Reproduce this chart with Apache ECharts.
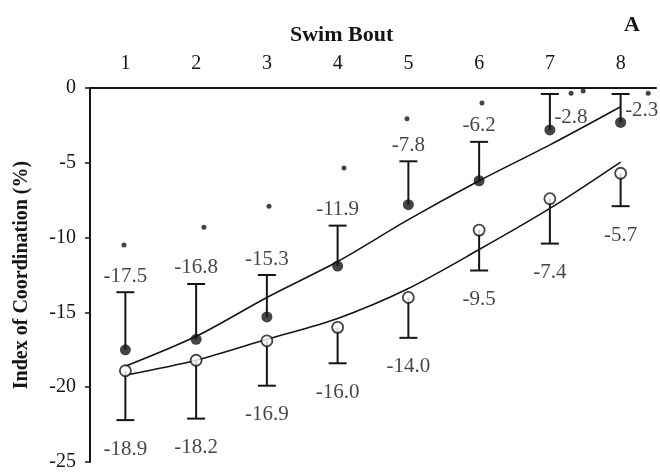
<!DOCTYPE html>
<html><head><meta charset="utf-8">
<script src="https://cdn.jsdelivr.net/npm/echarts@6/dist/echarts.min.js"></script>
<style>html,body{margin:0;padding:0;background:#fff}#c{width:660px;height:472px}</style>
</head><body><div id="c"></div>
<script>
// ---- data ----
const bouts = ['1', '2', '3', '4', '5', '6', '7', '8'];
const filledMean = [-17.5, -16.8, -15.3, -11.9, -7.8, -6.2, -2.8, -2.3];
const filledUpper = [-13.65, -13.1, -12.5, -9.2, -4.9, -3.6, -0.4, -0.4];
const openMean = [-18.9, -18.2, -16.9, -16.0, -14.0, -9.5, -7.4, -5.7];
const openLower = [-22.2, -22.1, -19.9, -18.4, -16.7, -12.2, -10.4, -7.9];
const filledFit = [-18.6, -16.6, -14.0, -11.6, -8.8, -6.2, -3.8, -1.25];
const openFit = [-19.2, -18.2, -16.8, -15.4, -13.4, -10.8, -8.05, -4.95];
const asteriskX = [0.98, 2.11, 3.03, 4.09, 4.98, 6.04, 7.30, 7.47, 8.39];
const asteriskY = [-10.5, -9.3, -7.9, -5.35, -2.05, -1.0, -0.35, -0.2, -0.35];
const yMin = -25, yMax = 0, yStep = 5;

const FONT = '"Liberation Serif", "Times New Roman", serif';
const INK = '#151515';

function errRender(params, api) {
  const x = api.value(0), a = api.value(1), b = api.value(2);
  const p1 = api.coord([x, a]), p2 = api.coord([x, b]);
  const hw = 9;
  return {
    type: 'group', children: [
      { type: 'line', shape: { x1: p1[0], y1: p1[1], x2: p2[0], y2: p2[1] }, style: { stroke: INK, lineWidth: 2 } },
      { type: 'line', shape: { x1: p2[0] - hw, y1: p2[1], x2: p2[0] + hw, y2: p2[1] }, style: { stroke: INK, lineWidth: 2 } }
    ]
  };
}

const fmt = v => v.toFixed(1);

// label items for filled group: above the upper cap, or to the right of the point when the cap is near 0
const filledLabelData = filledMean.map((m, i) => {
  const up = filledUpper[i];
  if (up > -1) {
    return { value: [i, m], label: { position: 'right', distance: 4, offset: [0, -12], formatter: fmt(m) } };
  }
  return { value: [i, up], label: { position: 'top', distance: 5, formatter: fmt(m) } };
});
const openLabelData = openMean.map((m, i) => ({
  value: [i, openLower[i]], label: { position: 'bottom', distance: 18, formatter: fmt(m) }
}));

const chart = echarts.init(document.getElementById('c'), null, { renderer: 'canvas' });
chart.setOption({
  animation: false,
  backgroundColor: '#fff',
  grid: { left: 90, right: 4, top: 88, bottom: 4, containLabel: false },
  graphic: [
    { type: 'text', left: 290, top: 24, style: { text: 'Swim Bout', font: 'bold 22px ' + FONT, fill: INK } },
    { type: 'text', left: 624, top: 14, style: { text: 'A', font: 'bold 22px ' + FONT, fill: INK } }
  ],
  xAxis: [{
    type: 'category', data: bouts, position: 'top', boundaryGap: true,
    axisLine: { onZero: false, lineStyle: { color: INK, width: 2 } },
    axisTick: { inside: true, length: 5, lineStyle: { color: INK, width: 1.5 } },
    axisLabel: { color: INK, fontFamily: FONT, fontSize: 20, margin: 14 },
    splitLine: { show: false }
  }, {
    type: 'value', min: 0.5, max: 8.5, show: false, position: 'top'
  }],
  yAxis: {
    type: 'value', min: yMin, max: yMax, interval: yStep,
    name: 'Index of Coordination (%)', nameLocation: 'middle', nameGap: 58,
    nameTextStyle: { color: INK, fontFamily: FONT, fontSize: 20, fontWeight: 'bold' },
    axisLine: { show: true, onZero: false, lineStyle: { color: INK, width: 2 } },
    axisTick: { show: true, length: 5, lineStyle: { color: INK, width: 1.5 } },
    axisLabel: { color: INK, fontFamily: FONT, fontSize: 20, margin: 14 },
    splitLine: { show: false }
  },
  series: [
    { type: 'line', data: filledFit, smooth: 0.3, symbol: 'none', lineStyle: { color: INK, width: 1.6 }, z: 2 },
    { type: 'line', data: openFit, smooth: 0.3, symbol: 'none', lineStyle: { color: INK, width: 1.6 }, z: 2 },
    { type: 'custom', renderItem: errRender, data: filledMean.map((m, i) => [i, m, filledUpper[i]]), z: 3 },
    { type: 'custom', renderItem: errRender, data: openMean.map((m, i) => [i, m, openLower[i]]), z: 3 },
    { type: 'scatter', data: openMean, symbol: 'circle', symbolSize: 11,
      itemStyle: { color: '#fff', borderColor: INK, borderWidth: 1.8 }, z: 5 },
    { type: 'scatter', data: filledMean, symbol: 'circle', symbolSize: 11,
      itemStyle: { color: INK }, z: 5 },
    { type: 'scatter', xAxisIndex: 1, data: asteriskX.map((x, i) => [x, asteriskY[i]]),
      symbol: 'circle', symbolSize: 5, itemStyle: { color: INK }, z: 5 },
    { type: 'scatter', data: filledLabelData, symbolSize: 1, itemStyle: { color: 'rgba(0,0,0,0)' },
      label: { show: true, color: INK, fontFamily: FONT, fontSize: 21 }, z: 6 },
    { type: 'scatter', data: openLabelData, symbolSize: 1, itemStyle: { color: 'rgba(0,0,0,0)' },
      label: { show: true, color: INK, fontFamily: FONT, fontSize: 21 }, z: 6 }
  ]
});
</script>
</body></html>
